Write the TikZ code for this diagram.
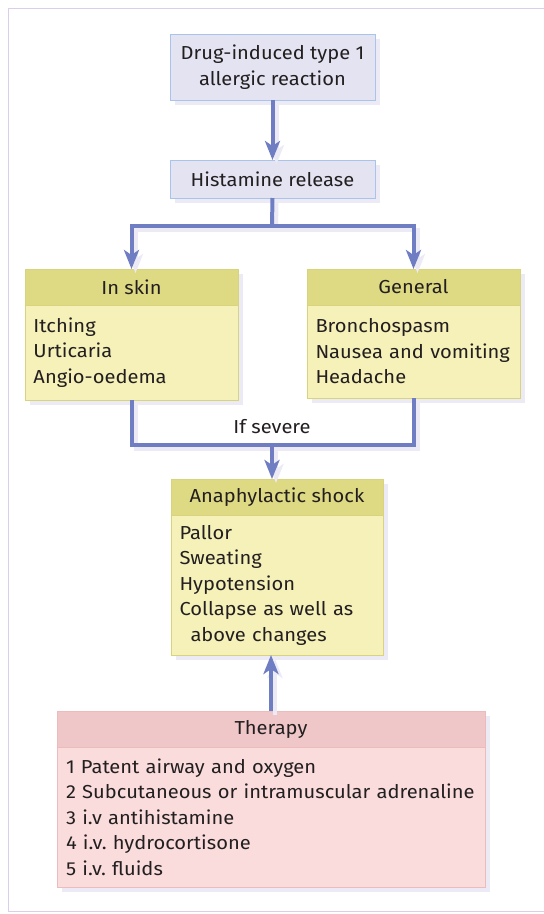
\documentclass[tikz,border=0pt]{standalone}
\usepackage{fontspec}
\setmainfont{Fira Sans}[FakeStretch=1.07]
\frenchspacing
\usetikzlibrary{arrows.meta}
\definecolor{framecol}{HTML}{DCCDEB}
\definecolor{lavfill}{HTML}{E3E3F1}
\definecolor{lavline}{HTML}{A9C4EA}
\definecolor{arrowcol}{HTML}{6F7DC3}
\definecolor{shadowcol}{HTML}{ECEAF4}
\definecolor{yhead}{HTML}{DED983}
\definecolor{ybody}{HTML}{F5F1B9}
\definecolor{yline}{HTML}{DAD37E}
\definecolor{phead}{HTML}{EFC7C8}
\definecolor{pbody}{HTML}{FADCDC}
\definecolor{pline}{HTML}{ECBCBD}
\definecolor{txt}{HTML}{231F20}
\tikzset{
  base/.style={rectangle, inner sep=0pt, outer sep=0pt, line width=1pt, text=txt,
    font=\fontsize{18.8}{25.5}\selectfont,
    preaction={fill=shadowcol, transform canvas={shift={(5pt,-5pt)}}}},
  lav/.style={base, fill=lavfill, draw=lavline, align=center},
  yhdr/.style={base, fill=yhead, draw=yline, align=center},
  ybdy/.style={base, fill=ybody, draw=yline, align=left, inner xsep=8.5pt},
  phdr/.style={base, fill=phead, draw=pline, align=center},
  pbdy/.style={base, fill=pbody, draw=pline, align=left, inner xsep=9pt},
  conn/.style={draw=arrowcol, line width=4pt,
    preaction={draw=shadowcol, line width=4pt, transform canvas={shift={(4pt,-4pt)}}}},
  tip/.style={-{Stealth[length=19pt,width=15pt,inset=5pt]}},
  lbl/.style={text=txt, font=\fontsize{18.8}{25.5}\selectfont, inner sep=0pt}
}
\begin{document}
\begin{tikzpicture}[x=1pt,y=-1pt]
\useasboundingbox[fill=white] (0,0) rectangle (544,914);
\draw[framecol, line width=1pt] (544,8.5) -- (8.5,8.5) -- (8.5,911.5) -- (544,911.5);

\node[lav, minimum width=205pt, minimum height=66pt, anchor=north west] (drug) at (170,34) {Drug-induced type 1\\allergic reaction};
\node[lav, minimum width=205pt, minimum height=38pt, anchor=north west] (hist) at (170,160) {Histamine release};

\node[yhdr, minimum width=213pt, minimum height=36pt, anchor=north west] (skinH) at (25,269) {In skin};
\node[ybdy, text width=196pt, minimum height=95pt, anchor=north west] (skinB) at (skinH.south west) {Itching\\Urticaria\\Angio-oedema};

\node[yhdr, minimum width=213pt, minimum height=36pt, anchor=north west] (genH) at (307,269) {General};
\node[ybdy, text width=196pt, minimum height=93pt, anchor=north west] (genB) at (genH.south west) {Bronchospasm\\Nausea and vomiting\\Headache};

\node[yhdr, minimum width=212pt, minimum height=36pt, anchor=north west] (shockH) at (171,479) {Anaphylactic shock};
\node[ybdy, text width=195pt, minimum height=140pt, anchor=north west] (shockB) at (shockH.south west) {Pallor\\Sweating\\Hypotension\\Collapse as well as\\\hspace*{11pt}above changes};

\node[phdr, minimum width=428pt, minimum height=36pt, anchor=north west] (thH) at (57,711) {Therapy};
\node[pbdy, text width=410pt, minimum height=140pt, anchor=north west] (thB) at (thH.south west) {1 Patent airway and oxygen\\2 Subcutaneous or intramuscular adrenaline\\3 i.v antihistamine\\4 i.v. hydrocortisone\\5 i.v. fluids};

\node[lbl] (sev) at (272,427) {If severe};

\coordinate (j1) at (272,226);
\coordinate (j2) at (272,445);
\draw[conn, tip] (drug.south) -- (hist.north);
\draw[conn] (hist.south) -- (j1);
\draw[conn, tip] (j1) -| (skinH.north);
\draw[conn, tip] (j1) -| (genH.north);
\draw[conn] (skinB.south) |- (j2) -| (genB.south);
\draw[conn, tip] (j2) -- (j2 |- shockH.north);
\draw[conn, tip] (thH.north) -- (thH.north |- shockB.south);
\end{tikzpicture}
\end{document}
